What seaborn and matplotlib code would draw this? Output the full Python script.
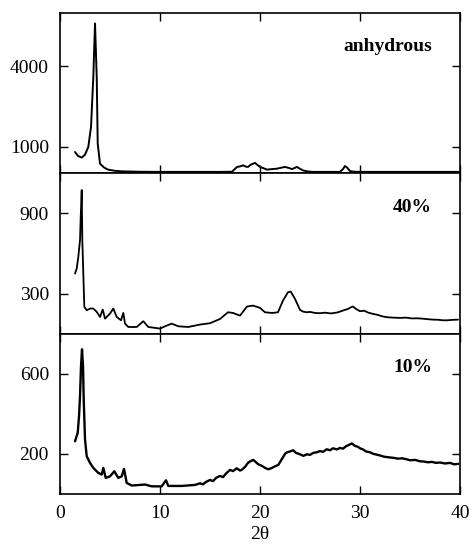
import numpy as np
import pandas as pd
import seaborn as sns
import matplotlib.pyplot as plt

# === data (2theta, counts) ===
tt_anh = [1.5, 1.8, 2.17, 2.5, 2.83, 3.1, 3.33, 3.5, 3.67, 3.77, 4.0, 4.4, 4.8, 5.5, 6.2,
          8, 10, 12, 14, 16, 17.2, 17.7, 18.0, 18.3, 18.6, 18.8, 19.1, 19.5, 19.8, 20.0,
          20.3, 20.7, 21.2, 21.7, 22.1, 22.5, 22.9, 23.2, 23.7, 24.0, 24.3, 24.8, 25.3,
          26, 27, 28.0, 28.3, 28.5, 28.75, 29.0, 29.5, 31, 33, 35, 37, 40]
I_anh = [800, 650, 590, 700, 990, 1740, 3610, 5610, 3610, 1110, 360, 220, 140, 95, 75,
         60, 55, 55, 55, 55, 60, 240, 260, 300, 250, 240, 330, 390, 300, 240,
         200, 140, 160, 175, 210, 240, 200, 160, 240, 170, 110, 70, 55,
         55, 55, 55, 160, 275, 200, 85, 60, 55, 55, 55, 55, 55]

tt_40 = [1.5, 1.67, 1.83, 2.0, 2.07, 2.17, 2.23, 2.33, 2.43, 2.67, 3.0, 3.33, 3.67, 4.0,
         4.27, 4.5, 5.0, 5.33, 5.67, 6.1, 6.33, 6.5, 6.83, 7.67, 8.33, 8.83, 10.0, 10.5,
         11.17, 11.83, 12.83, 14.0, 15.0, 16.0, 16.8, 17.3, 18.0, 18.7, 19.3, 20.0, 20.5,
         21.2, 21.8, 22.3, 22.8, 23.07, 23.5,
         24.0, 24.3, 24.7, 25.0, 25.5, 26.0, 26.5, 27.0, 27.3, 27.8, 28.3, 28.8, 29.1,
         29.3, 29.6, 30.0, 30.4, 30.8, 31.3, 31.8, 32.2, 32.7, 33.3, 34.0, 34.6, 35.2,
         35.7, 36.3, 36.8, 37.3, 37.8, 38.3, 38.7, 39.2, 39.8]
I_40 = [450, 488, 575, 700, 875, 1075, 700, 450, 200, 175, 188, 188, 163, 125,
        180, 113, 150, 188, 125, 100, 155, 75, 50, 50, 93, 50, 38, 55,
        75, 55, 50, 68, 78, 110, 160, 155, 135, 203, 210, 193, 160,
        155, 160, 248, 310, 315, 260,
        178, 165, 160, 163, 155, 153, 157, 152, 153, 160, 173, 185, 198,
        203, 185, 168, 172, 158, 148, 140, 130, 123, 120, 118, 120, 114,
        115, 112, 108, 105, 104, 100, 100, 103, 105]

tt_10 = [1.5, 1.77, 1.9, 2.0, 2.1, 2.2, 2.3, 2.37, 2.5, 2.67, 3.0, 3.33, 3.83, 4.17, 4.33,
         4.57, 5.0, 5.43, 5.83, 6.17, 6.4, 6.67, 7.17, 8.5, 9.17, 10.17, 10.6, 10.83,
         12.17, 13.5, 13.8, 14.0, 14.3, 14.6, 15.0, 15.3, 15.6, 16.0, 16.3, 16.6, 17.0,
         17.3, 17.67, 18.0, 18.17, 18.5, 18.8, 19.0, 19.33, 19.6, 19.83, 20.2, 20.5,
         20.83, 21.2, 21.5, 21.83, 22.2, 22.5, 22.67, 23.0, 23.33, 23.6, 24.0, 24.33,
         24.7, 25.0, 25.33, 25.7, 26.0, 26.3, 26.67, 27.0, 27.3, 27.7, 28.0, 28.3, 28.6,
         28.9, 29.17, 29.5, 29.8, 30.0, 30.3, 30.6, 31.0, 31.33, 31.7, 32.0, 32.4, 33.0,
         33.4, 33.8, 34.2, 34.67, 35.0, 35.5, 36.0, 36.33, 36.8, 37.2, 37.6, 38.0, 38.5,
         39.0, 39.4, 39.83]
I_10 = [263, 305, 388, 488, 638, 722, 638, 472, 272, 188, 155, 130, 105, 97, 130,
        80, 88, 113, 80, 88, 125, 55, 42, 47, 38, 38, 68, 40,
        40, 45, 50, 53, 48, 60, 70, 64, 80, 90, 84, 102, 120,
        114, 128, 117, 120, 135, 155, 162, 170, 158, 148, 140, 130,
        123, 130, 138, 145, 175, 200, 207, 212, 218, 205, 198, 190,
        198, 195, 205, 208, 214, 210, 223, 218, 228, 222, 230, 226, 238,
        245, 252, 240, 235, 228, 222, 212, 208, 200, 196, 192, 186, 182,
        180, 176, 178, 173, 168, 170, 163, 162, 158, 160, 155, 157, 152,
        155, 148, 150]

labels = ['anhydrous', '40%', '10%']
ylims = [(0, 6000), (0, 1200), (0, 800)]
yticks = [[1000, 4000], [300, 900], [200, 600]]
line_w = [1.4, 1.3, 1.7]

# === plot ===
sns.set_theme(style="ticks")
plt.rcParams['font.family'] = ['Liberation Serif', 'DejaVu Serif']
plt.rcParams['text.color'] = 'black'

fig, axes = plt.subplots(3, 1, figsize=(4.70, 5.44), dpi=100, sharex=True)
fig.subplots_adjust(left=0.1277, right=0.9787, top=0.976, bottom=0.092, hspace=0)

series = [(tt_anh, I_anh), (tt_40, I_40), (tt_10, I_10)]
for ax, (tt, I), lab, yl, yt, lw in zip(axes, series, labels, ylims, yticks, line_w):
    df = pd.DataFrame({'2theta': tt, 'I': I})
    sns.lineplot(data=df, x='2theta', y='I', ax=ax, color='black',
                 linewidth=lw, estimator=None, sort=False)
    ax.set_xlim(0, 40)
    ax.set_ylim(*yl)
    ax.set_yticks(yt)
    ax.set_xticks([0, 10, 20, 30, 40])
    ax.set_ylabel('')
    ax.set_xlabel('')
    ax.tick_params(direction='in', length=6, width=1.0, top=True, right=True,
                   labelsize=14, colors='black', labelcolor='black', pad=8)
    for sp in ax.spines.values():
        sp.set_linewidth(1.2)
        sp.set_color('black')
    ax.text(0.93, 0.79, lab, transform=ax.transAxes, ha='right', va='center',
            fontsize=14, fontweight='bold', color='black')

axes[-1].set_xlabel('2θ', fontsize=14, labelpad=3, color='black')

plt.savefig('out.png', dpi=100)
